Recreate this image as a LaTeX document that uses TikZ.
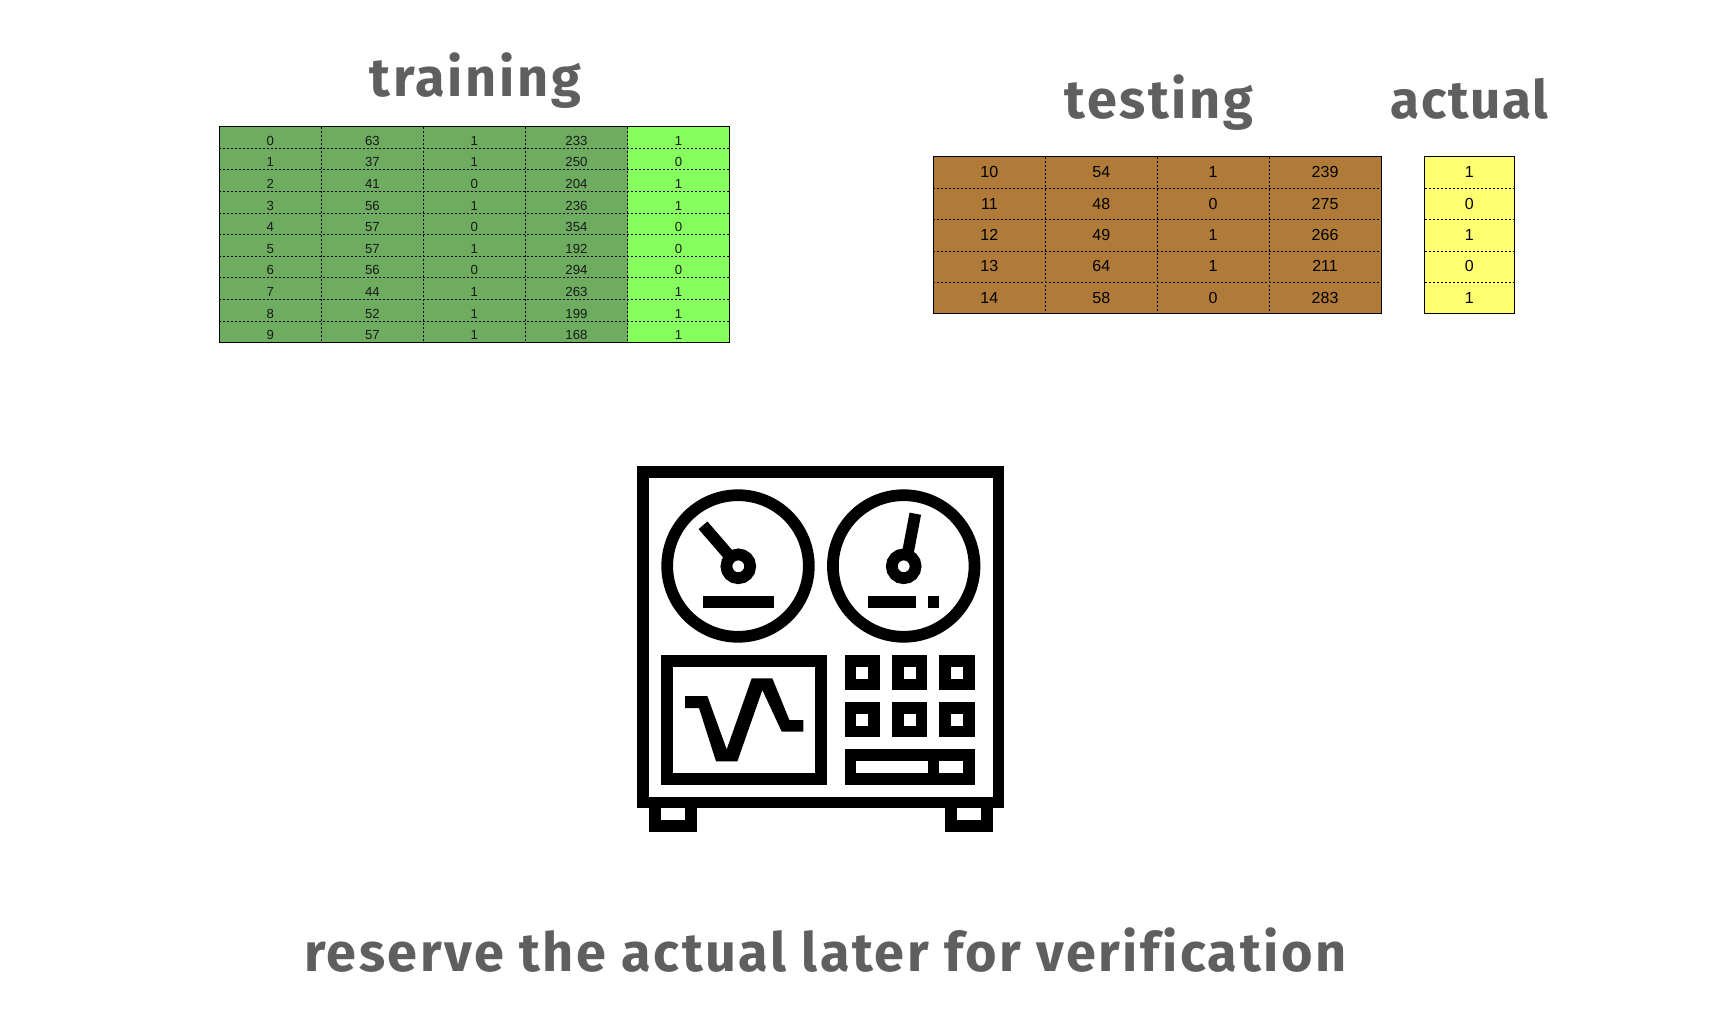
\documentclass[tikz,border=0pt]{standalone}
\usepackage{fontspec}
\setmainfont{Liberation Sans}
\newfontfamily\titlefont[LetterSpace=5,Ligatures=NoCommon]{Fira Sans Bold}
\newfontfamily\tightfont[LetterSpace=3]{Fira Sans Bold}
\newfontfamily\capfont[LetterSpace=4.7,Ligatures=NoCommon]{Fira Sans Bold}
\definecolor{titlegray}{HTML}{5F5F5F}
\definecolor{traingreen}{HTML}{6EAD60}
\definecolor{labelgreen}{HTML}{86FF5E}
\definecolor{testbrown}{HTML}{B07A38}
\definecolor{actualyellow}{HTML}{FFFF70}
\tikzset{
  titletext/.style={text=titlegray,anchor=base,inner sep=0pt,font=\titlefont\fontsize{27}{30}\selectfont},
  tighttext/.style={text=titlegray,anchor=base,inner sep=0pt,font=\tightfont\fontsize{26.5}{30}\selectfont},
  captext/.style={text=titlegray,anchor=base,inner sep=0pt,font=\capfont\fontsize{27}{30}\selectfont},
  smallcell/.style={anchor=mid,inner sep=0pt,text=black!90,font=\fontsize{6.6}{8}\selectfont},
  bigcell/.style={anchor=mid,inner sep=0pt,text=black,font=\fontsize{8}{10}\selectfont},
  gridline/.style={line width=.5pt,dash pattern=on 1pt off 1pt},
  frameline/.style={line width=.5pt,draw=black},
  ink/.style={line width=5.85pt,draw=black,miter limit=10},
  inkfill/.style={fill=black,draw=none}
}
\begin{document}
\begin{tikzpicture}[x=.5pt,y=-.5pt]
\useasboundingbox (0,0) rectangle (1728,1032);
% titles
\node[titletext] (ttrain) at (475.5,96.5) {training};
\node[titletext] (ttest) at (1159,119) {testing};
\node[tighttext] (tactual) at (1469.6,119) {actual};
\node[captext] (tcap) at (825.4,971) {reserve the actual later for verification};
% training table
\def\Lx{219.3}\def\Rx{729.5}\def\Ty{126.7}\def\By{342.7}
\fill[traingreen] (\Lx,\Ty) rectangle (627.5,\By);
\fill[labelgreen] (627.5,\Ty) rectangle (\Rx,\By);
\foreach \c in {1,2,3,4} \draw[gridline] ({\Lx+\c*102.04},\Ty) -- ({\Lx+\c*102.04},\By);
\foreach \c in {1,...,9} \draw[gridline] (\Lx,{\Ty+\c*21.6}) -- (\Rx,{\Ty+\c*21.6});
\draw[frameline] (\Lx,\Ty) rectangle (\Rx,\By);
\foreach \a/\b/\cc/\d/\e [count=\i from 0] in {0/63/1/233/1,1/37/1/250/0,2/41/0/204/1,3/56/1/236/1,4/57/0/354/0,5/57/1/192/0,6/56/0/294/0,7/44/1/263/1,8/52/1/199/1,9/57/1/168/1}{
  \pgfmathsetmacro\yy{\Ty+(\i+.5)*21.6+2.5}
  \node[smallcell] (tr\i a) at ({\Lx+.5*102.04},\yy) {\a};
  \node[smallcell] (tr\i b) at ({\Lx+1.5*102.04},\yy) {\b};
  \node[smallcell] (tr\i c) at ({\Lx+2.5*102.04},\yy) {\cc};
  \node[smallcell] (tr\i d) at ({\Lx+3.5*102.04},\yy) {\d};
  \node[smallcell] (tr\i e) at ({\Lx+4.5*102.04},\yy) {\e};
}
% testing table
\def\LLx{933.4}\def\RRx{1381}\def\TTy{157}\def\BBy{313.7}
\fill[testbrown] (\LLx,\TTy) rectangle (\RRx,\BBy);
\foreach \c in {1,2,3} \draw[gridline] ({\LLx+\c*111.9},\TTy) -- ({\LLx+\c*111.9},\BBy);
\foreach \c in {1,...,4} \draw[gridline] (\LLx,{\TTy+\c*31.34}) -- (\RRx,{\TTy+\c*31.34});
\draw[frameline] (\LLx,\TTy) rectangle (\RRx,\BBy);
\foreach \a/\b/\cc/\d [count=\i from 0] in {10/54/1/239,11/48/0/275,12/49/1/266,13/64/1/211,14/58/0/283}{
  \pgfmathsetmacro\yy{\TTy+(\i+.5)*31.34}
  \node[bigcell] (te\i a) at ({\LLx+.5*111.9},\yy) {\a};
  \node[bigcell] (te\i b) at ({\LLx+1.5*111.9},\yy) {\b};
  \node[bigcell] (te\i c) at ({\LLx+2.5*111.9},\yy) {\cc};
  \node[bigcell] (te\i d) at ({\LLx+3.5*111.9},\yy) {\d};
}
% actual table
\fill[actualyellow] (1424.5,\TTy) rectangle (1514,\BBy);
\foreach \c in {1,...,4} \draw[gridline] (1424.5,{\TTy+\c*31.34}) -- (1514,{\TTy+\c*31.34});
\draw[frameline] (1424.5,\TTy) rectangle (1514,\BBy);
\foreach \a [count=\i from 0] in {1,0,1,0,1}{
  \node[bigcell] (ac\i) at (1469.3,{\TTy+(\i+.5)*31.34}) {\a};
}
% tape machine
\draw[ink] (643.2,471.9) rectangle (998.4,802.5);
\draw[ink] (655.2,808) -- (655.2,825.8) -- (690.8,825.8) -- (690.8,808);
\draw[ink] (951.2,808) -- (951.2,825.8) -- (986.8,825.8) -- (986.8,808);
% reels
\draw[ink] (738,566) circle[radius=70.8];
\draw[ink] (903.7,566) circle[radius=70.8];
\draw[ink] (738.3,566.3) circle[radius=11.9];
\draw[ink] (903.7,566.3) circle[radius=11.9];
\draw[ink] (703,525.3) -- (730,556.5);
\draw[ink] (915.3,513.7) -- (908,552);
\fill[inkfill] (702.7,596) rectangle (774,607.7);
\fill[inkfill] (868.3,596) rectangle (915.7,607.7);
\fill[inkfill] (927.7,596) rectangle (939.3,607.7);
% screen
\draw[ink] (667.2,660.9) rectangle (821.1,778.8);
\fill[inkfill,shift={(630,645)},x=.1667pt,y=-.1667pt]
  (165,153) -- (232,153) -- (290,313) -- (365,100) -- (427,100) -- (478,225) -- (520,225) -- (520,260) -- (455,260) -- (397,135) -- (322,349) -- (258,349) -- (207,189) -- (165,189) -- cycle;
% buttons
\foreach \xx in {850.6,897.9,945.2} \foreach \yy in {660.9,708}
  \draw[ink] (\xx,\yy) rectangle ({\xx+23.6},{\yy+23.6});
\draw[ink] (850.6,755.2) rectangle (968.8,778.8);
\fill[inkfill] (927.7,755) rectangle (939.3,779);
\end{tikzpicture}
\end{document}
